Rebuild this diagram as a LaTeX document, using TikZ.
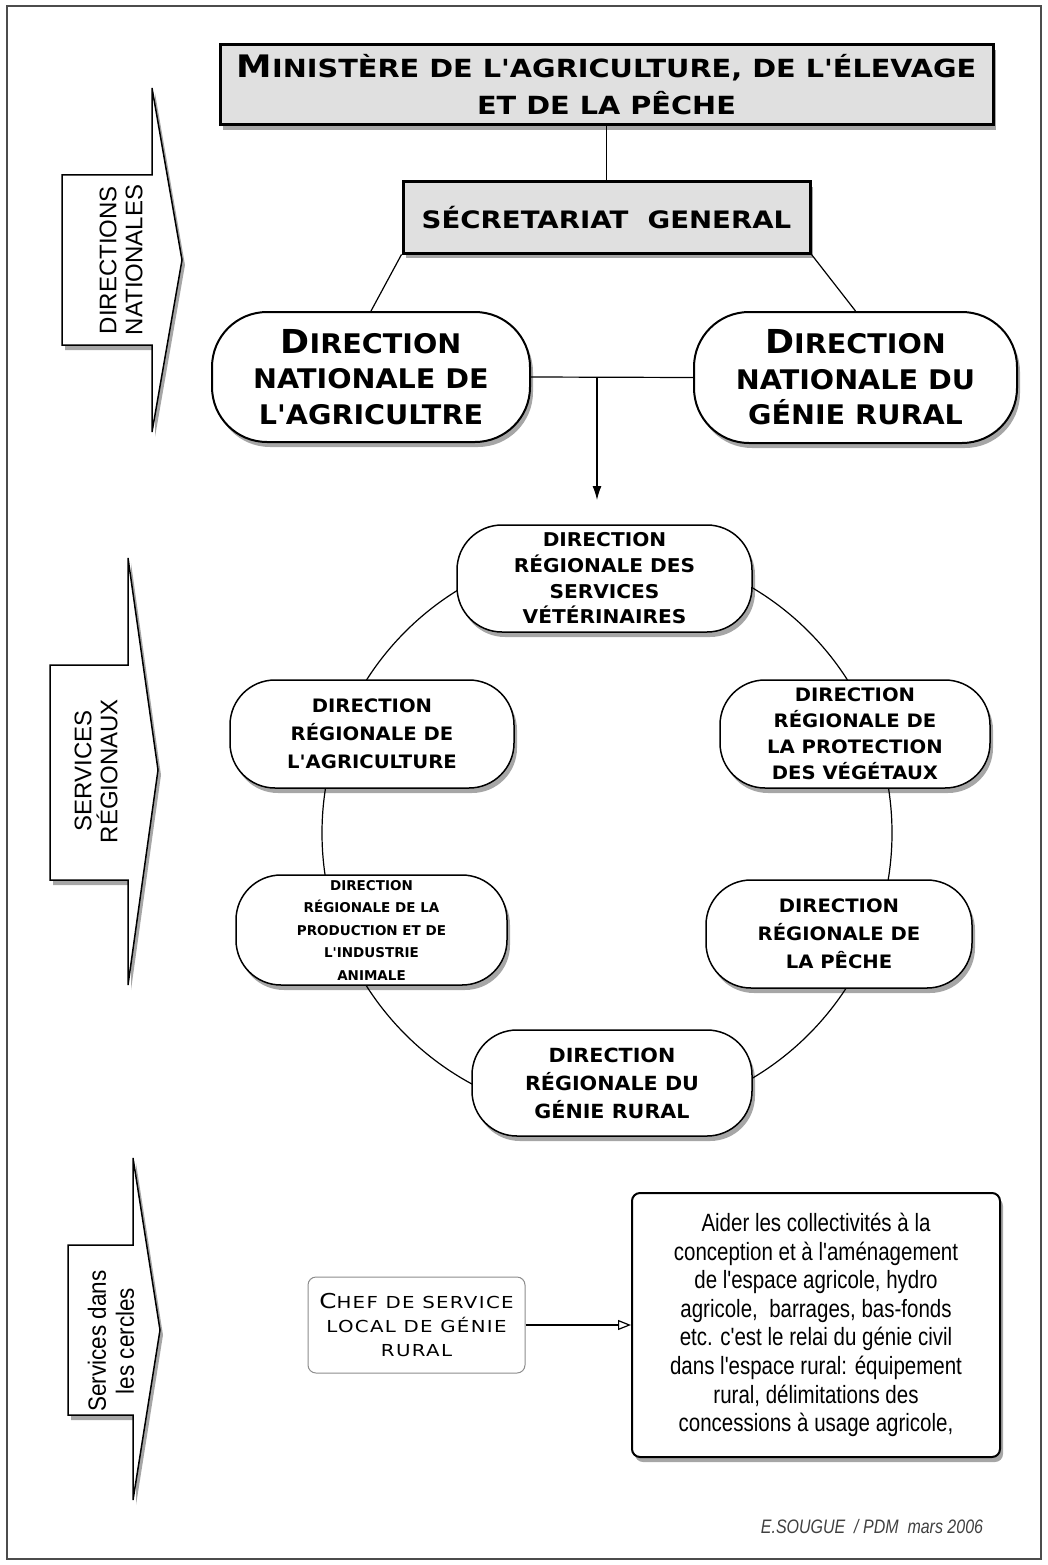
\documentclass[tikz,border=0pt]{standalone}
\usepackage{fontspec}
\setmainfont{Liberation Sans}
\newfontfamily\copA{DejaVu Sans Bold}[FakeStretch=1.15]
\newfontfamily\copB{DejaVu Sans Bold}[FakeStretch=1.06]
\newfontfamily\copC{DejaVu Sans Bold}
\newfontfamily\copR{DejaVu Sans}[FakeStretch=1.2]
\newfontfamily\narrowf{Liberation Sans}[FakeStretch=0.82]
\newfontfamily\semif{Liberation Sans}[FakeStretch=0.9]
\usetikzlibrary{shadows,arrows.meta}
\newcommand\Bg[2]{{\fontsize{#1}{#1}\selectfont #2}}
\tikzset{
  shade/.style={drop shadow={shadow xshift=3pt,shadow yshift=-5pt,opacity=0.35,fill=black}},
  grbox/.style={draw=black,line width=3pt,fill=black!12,shade,inner sep=0pt,align=center},
  natbox/.style={draw=black,line width=2pt,fill=white,rounded corners=55pt,shade,inner sep=0pt,align=center,
    font=\copB\fontsize{27}{35.5}\selectfont},
  regbox/.style={draw=black,line width=1.5pt,fill=white,rounded corners=45pt,shade,inner sep=0pt,align=center},
  sidearrow/.style={draw=black,line width=1.5pt,fill=white,shade},
  sidelabel/.style={rotate=90,align=center,inner sep=0pt},
  link/.style={draw=black,line width=1.2pt},
}
\begin{document}
\begin{tikzpicture}[x=1pt,y=-1pt]
\useasboundingbox (0,0) rectangle (1048,1565);
\draw[black!70,line width=1.5pt] (7,6) rectangle (1041,1559);

% side arrows
\draw[sidearrow] (62,175) -- (152,175) -- (152,88) -- (182,260) -- (152,432) -- (152,345) -- (62,345) -- cycle;
\node[sidelabel,font=\fontsize{24}{26}\selectfont] (lab1) at (121,260) {DIRECTIONS\\NATIONALES};
\draw[sidearrow] (50,665) -- (128,665) -- (128,558) -- (158,770) -- (128,985) -- (128,880) -- (50,880) -- cycle;
\node[sidelabel,font=\fontsize{24}{26}\selectfont] (lab2) at (96,771) {SERVICES\\RÉGIONAUX};
\draw[sidearrow] (68,1245) -- (133,1245) -- (133,1158) -- (160,1330) -- (133,1500) -- (133,1415) -- (68,1415) -- cycle;
\node[sidelabel,font=\semif\fontsize{25}{28}\selectfont] (lab3) at (111,1341) {Services dans\\les cercles};

% top
\node[grbox,minimum width=773pt,minimum height=80pt,font=\copA\fontsize{25}{37}\selectfont] (min) at (606.5,85)
  {\Bg{31}{M}INISTÈRE DE L'AGRICULTURE, DE L'ÉLEVAGE\\ET DE LA PÊCHE};
\node[grbox,minimum width=407pt,minimum height=71pt,font=\copA\fontsize{24}{30}\selectfont] (sg) at (606.5,217.5)
  {SÉCRETARIAT\ \ GENERAL};
\node[natbox,minimum width=318pt,minimum height=130pt] (dna) at (371,377)
  {\Bg{33}{D}IRECTION\\NATIONALE DE\\L'AGRICULTRE};
\node[natbox,minimum width=323pt,minimum height=131pt] (dngr) at (855.5,377.5)
  {\Bg{33}{D}IRECTION\\NATIONALE DU\\GÉNIE RURAL};
\draw[link] (min.south) -- (sg.north);
\draw[link] (sg.south west) -- (dna.north);
\draw[link] (sg.south east) -- (dngr.north);
\draw[link] (dna.east) -- (dngr.west);
\coordinate (fork) at (597,377);
\coordinate (down) at (597,500);
\draw[link,-{Latex[length=14pt,width=9pt]}] (fork) -- (down);

% ring
\node[draw=black,line width=1.2pt,circle,minimum size=570pt,inner sep=0pt] (ring) at (607,833) {};

\node[regbox,minimum width=295pt,minimum height=107pt,font=\copB\fontsize{19}{25.7}\selectfont] (rv) at (604.5,578.5)
  {DIRECTION\\RÉGIONALE DES\\SERVICES\\VÉTÉRINAIRES};
\node[regbox,minimum width=284pt,minimum height=108pt,font=\copB\fontsize{18.5}{28}\selectfont] (ra) at (372,734)
  {DIRECTION\\RÉGIONALE DE\\L'AGRICULTURE};
\node[regbox,minimum width=270pt,minimum height=108pt,font=\copB\fontsize{18.5}{26}\selectfont] (rp) at (855,734)
  {DIRECTION\\RÉGIONALE DE\\LA PROTECTION\\DES VÉGÉTAUX};
\node[regbox,minimum width=271pt,minimum height=110pt,font=\copC\fontsize{13.5}{22.5}\selectfont] (ri) at (371.5,930)
  {DIRECTION\\RÉGIONALE DE LA\\PRODUCTION ET DE\\L'INDUSTRIE\\ANIMALE};
\node[regbox,minimum width=266pt,minimum height=108pt,font=\copB\fontsize{18.5}{28}\selectfont] (rpe) at (839,934)
  {DIRECTION\\RÉGIONALE DE\\LA PÊCHE};
\node[regbox,minimum width=280pt,minimum height=106pt,font=\copB\fontsize{19.5}{28}\selectfont] (rg) at (612,1083)
  {DIRECTION\\RÉGIONALE DU\\GÉNIE RURAL};

% bottom
\node[draw=black!45,line width=1pt,fill=white,rounded corners=8pt,minimum width=217pt,minimum height=96pt,inner sep=0pt,align=center,
  font=\copR\fontsize{16.5}{24}\selectfont\addfontfeature{LetterSpace=8}] (chef) at (416.5,1325)
  {\Bg{20.5}{C}HEF DE SERVICE\\LOCAL DE GÉNIE\\RURAL};
\node[draw=black,line width=2pt,fill=white,rounded corners=8pt,shade,minimum width=368pt,minimum height=264pt,inner sep=0pt,align=center,
  font=\narrowf\fontsize{25}{28.6}\selectfont] (txt) at (816,1325)
  {Aider les collectivités à la\\conception et à l'aménagement\\de l'espace agricole, hydro\\agricole,\ \ barrages, bas-fonds\\etc. c'est le relai du génie civil\\dans l'espace rural: équipement\\rural, délimitations des\\concessions à usage agricole,};
\draw[link,-{Triangle[open,length=13pt,width=10pt]}] (chef.east) -- (txt.west);

\node[font=\narrowf\itshape\fontsize{19.5}{22}\selectfont,text=black!75] (foot) at (872,1527) {E.SOUGUE\ \ / PDM\ \ mars 2006};
\end{tikzpicture}
\end{document}
